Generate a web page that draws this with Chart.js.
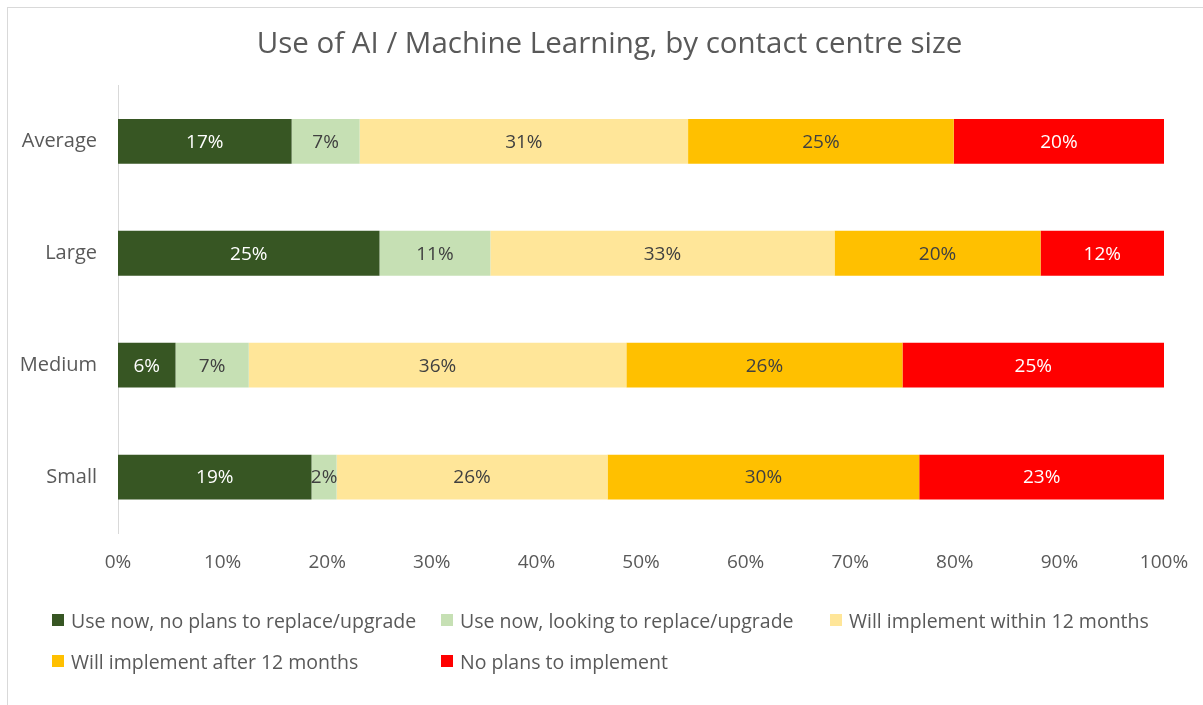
<!DOCTYPE html>
<html>
<head>
<meta charset="utf-8">
<script src="https://cdn.jsdelivr.net/npm/chart.js@4"></script>
<style>
  html, body { margin: 0; padding: 0; background: #fff; }
  #wrap { position: relative; width: 1203px; height: 705px; overflow: hidden; }
  #aiChart { display: block; }
  #frame { position: absolute; left: 7px; top: 7px; width: 1300px; height: 800px;
           border-left: 1px solid #d9d9d9; border-top: 1px solid #d9d9d9; }
  #legend { position: absolute; left: 52px; top: 606px; display: grid;
            grid-template-columns: 389px 389px 389px; grid-auto-rows: 41px;
            font-family: "Open Sans", sans-serif; font-size: 19.5px; color: #595959; }
  #legend div { display: flex; align-items: center; height: 28px; white-space: nowrap; }
  #legend span { display: inline-block; width: 12px; height: 12px; margin-right: 7px; }
</style>
</head>
<body>
<div id="wrap">
  <div id="frame"></div>
  <canvas id="aiChart" width="1203" height="705"></canvas>
  <div id="legend"></div>
</div>
<script>
// categories and series, in percent of respondents
const sizes = ["Average", "Large", "Medium", "Small"];
const seriesNames = [
  "Use now, no plans to replace/upgrade",
  "Use now, looking to replace/upgrade",
  "Will implement within 12 months",
  "Will implement after 12 months",
  "No plans to implement"
];
const useNoPlans   = [16.6, 25.0, 5.5, 18.5];
const useReplacing = [6.5, 10.6, 7.0, 2.4];
const within12     = [31.4, 32.9, 36.1, 25.9];
const after12      = [25.4, 19.7, 26.4, 29.8];
const noPlans      = [20.1, 11.8, 25.0, 23.4];
const xTicks = [0, 10, 20, 30, 40, 50, 60, 70, 80, 90, 100];

const colors = ["#375623", "#C6E0B4", "#FFE699", "#FFC000", "#FF0000"];
const labelColors = ["#ffffff", "#404040", "#404040", "#404040", "#ffffff"];
const values = [useNoPlans, useReplacing, within12, after12, noPlans];

const FONT = "'Open Sans', sans-serif";

// writes the rounded percentage in the middle of every segment
const barLabels = {
  id: "barLabels",
  afterDatasetsDraw(chart) {
    const ctx = chart.ctx;
    ctx.save();
    ctx.font = "19px " + FONT;
    ctx.textAlign = "center";
    ctx.textBaseline = "middle";
    chart.data.datasets.forEach((ds, i) => {
      chart.getDatasetMeta(i).data.forEach((bar, j) => {
        const c = bar.getCenterPoint();
        ctx.fillStyle = labelColors[i];
        ctx.fillText(Math.round(ds.data[j]) + "%", c.x, c.y + 1);
      });
    });
    ctx.restore();
  }
};

const chart = new Chart(document.getElementById("aiChart"), {
  type: "bar",
  data: {
    labels: sizes,
    datasets: seriesNames.map((name, i) => ({
      label: name,
      data: values[i],
      backgroundColor: colors[i],
      borderWidth: 0,
      barPercentage: 0.4,
      categoryPercentage: 1
    }))
  },
  options: {
    indexAxis: "y",
    responsive: false,
    animation: false,
    layout: { padding: { left: 16, right: 0, top: 0, bottom: 112 } },
    plugins: {
      legend: { display: false },
      tooltip: { enabled: false },
      title: {
        display: true,
        text: "Use of AI / Machine Learning, by contact centre size",
        color: "#595959",
        font: { family: FONT, size: 29.5, weight: "normal" },
        padding: { top: 27, bottom: 23 }
      }
    },
    scales: {
      x: {
        stacked: true,
        min: 0,
        max: 100,
        afterBuildTicks(scale) { scale.ticks = xTicks.map(v => ({ value: v })); },
        afterFit(scale) {
          scale.height = 60;
          // fixed side margins for the plot, title stays centred on the frame
          scale.paddingLeft = 0;
          scale.paddingRight = 39;
        },
        grid: { display: false, drawTicks: false },
        border: { display: false },
        ticks: {
          padding: 18,
          color: "#595959",
          font: { family: FONT, size: 19 },
          callback: v => v + "%"
        }
      },
      y: {
        stacked: true,
        afterFit(scale) { scale.width = 102; },
        grid: { display: false, drawTicks: false },
        border: { display: true, color: "#d9d9d9", width: 1 },
        ticks: {
          padding: 21,
          color: "#595959",
          font: { family: FONT, size: 20 }
        }
      }
    }
  },
  plugins: [barLabels]
});

// legend laid out in fixed columns
const legend = document.getElementById("legend");
chart.data.datasets.forEach(ds => {
  const item = document.createElement("div");
  const box = document.createElement("span");
  box.style.background = ds.backgroundColor;
  item.appendChild(box);
  item.appendChild(document.createTextNode(ds.label));
  legend.appendChild(item);
});
</script>
</body>
</html>
